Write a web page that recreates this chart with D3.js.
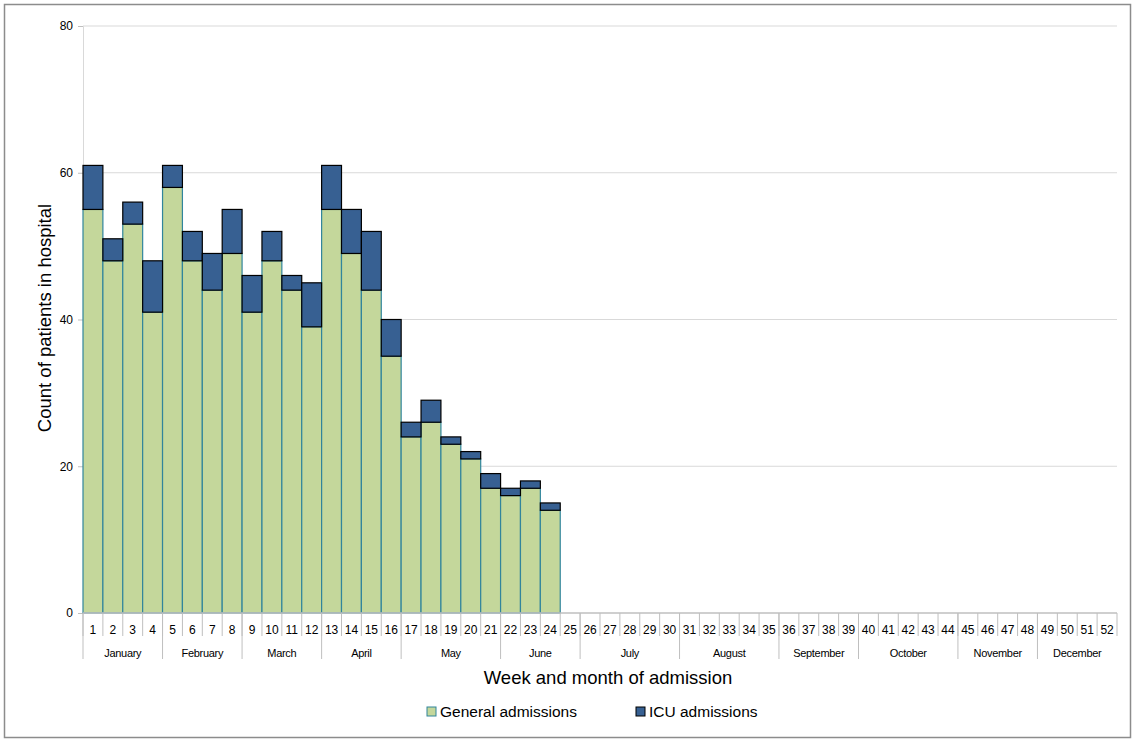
<!DOCTYPE html>
<html><head><meta charset="utf-8">
<script src="https://cdn.jsdelivr.net/npm/d3@7"></script>
<style>body{margin:0;background:#fff;} text{font-family:"Liberation Sans",Arial,sans-serif;fill:#000;}</style>
</head><body><svg id="c" width="1132" height="740"></svg>
<script>
const weeks = d3.range(1, 53);
const general = [55,48,53,41,58,48,44,49,41,48,44,39,55,49,44,35,24,26,23,21,17,16,17,14];
const icu     = [6,3,3,7,3,4,5,6,5,4,2,6,6,6,8,5,2,3,1,1,2,1,1,1];
const months = [
  {name:"January", start:1, end:4},{name:"February", start:5, end:8},
  {name:"March", start:9, end:12},{name:"April", start:13, end:16},
  {name:"May", start:17, end:21},{name:"June", start:22, end:25},
  {name:"July", start:26, end:30},{name:"August", start:31, end:35},
  {name:"September", start:36, end:39},{name:"October", start:40, end:44},
  {name:"November", start:45, end:48},{name:"December", start:49, end:52}];
const yTicks = [0,20,40,60,80];
const seriesNames = ["General admissions","ICU admissions"];
const colors = {gen:"#c4d79b", genStroke:"#31859c", icu:"#376092", icuStroke:"#000"};

const svg = d3.select("#c");
svg.append("rect").attr("x",4.5).attr("y",4.5).attr("width",1126).attr("height",733)
  .attr("fill","none").attr("stroke","#8c8c8c").attr("stroke-width",1.5);

const L=83, R=1117, T=26, B=613;
const x = d3.scaleBand().domain(weeks).range([L,R]).padding(0);
const y = d3.scaleLinear().domain([0,80]).range([B,T]);

// gridlines
svg.append("g").selectAll("line").data(yTicks.filter(d=>d>0)).join("line")
  .attr("x1",L).attr("x2",R).attr("y1",d=>y(d)).attr("y2",d=>y(d))
  .attr("stroke","#d9d9d9").attr("stroke-width",1);

// y axis
const yAxis = svg.append("g").attr("transform",`translate(${L},0)`)
  .call(d3.axisLeft(y).tickValues(yTicks).tickSize(5).tickPadding(5));
yAxis.select(".domain").attr("stroke","#d9d9d9");
yAxis.selectAll(".tick line").attr("stroke","#bfbfbf");
yAxis.selectAll(".tick text").attr("font-size",12).attr("font-family","Liberation Sans, Arial, sans-serif").attr("fill","#000");

// bars
const data = general.map((g,i)=>({week:weeks[i], gen:g, icu:icu[i]}));
const stack = d3.stack().keys(["gen","icu"])(data);
svg.append("g").selectAll("rect").data(stack[0]).join("rect")
  .attr("x",d=>x(d.data.week)).attr("width",x.bandwidth())
  .attr("y",d=>y(d[1])).attr("height",d=>y(d[0])-y(d[1]))
  .attr("fill",colors.gen).attr("stroke",colors.genStroke).attr("stroke-width",1.2);
svg.append("g").selectAll("rect").data(stack[1]).join("rect")
  .attr("x",d=>x(d.data.week)).attr("width",x.bandwidth())
  .attr("y",d=>y(d[1])).attr("height",d=>y(d[0])-y(d[1]))
  .attr("fill",colors.icu).attr("stroke",colors.icuStroke).attr("stroke-width",1.2);

// x axis baseline
svg.append("line").attr("x1",L).attr("x2",R).attr("y1",B).attr("y2",B)
  .attr("stroke","#bfbfbf").attr("stroke-width",1.5);

// week separators
const wk = svg.append("g");
wk.selectAll("line").data(weeks.concat([53])).join("line")
  .attr("x1",d=>d<=52?x(d):R).attr("x2",d=>d<=52?x(d):R)
  .attr("y1",B).attr("y2",636).attr("stroke","#bfbfbf");
wk.selectAll("text").data(weeks).join("text")
  .attr("x",d=>x(d)+x.bandwidth()/2).attr("y",634).attr("text-anchor","middle")
  .attr("font-size",12).text(d=>d);

// month separators & labels
const mg = svg.append("g");
mg.selectAll("line").data(months).join("line")
  .attr("x1",d=>x(d.start)).attr("x2",d=>x(d.start))
  .attr("y1",B).attr("y2",659).attr("stroke","#bfbfbf");
mg.selectAll("text").data(months).join("text")
  .attr("x",d=>(x(d.start)+x(d.end)+x.bandwidth())/2).attr("y",657)
  .attr("text-anchor","middle").attr("font-size",11)
  .attr("letter-spacing","-0.3").text(d=>d.name);

// axis titles
svg.append("text").attr("x",608).attr("y",684).attr("text-anchor","middle")
  .attr("font-size",18.5).text("Week and month of admission");
svg.append("text").attr("transform","translate(51,318) rotate(-90)").attr("text-anchor","middle")
  .attr("font-size",18.5).text("Count of patients in hospital");

// legend
const leg = [{name:seriesNames[0], fill:colors.gen, stroke:colors.genStroke, x:427},
             {name:seriesNames[1], fill:colors.icu, stroke:colors.icuStroke, x:636}];
const lg = svg.append("g").selectAll("g").data(leg).join("g");
lg.append("rect").attr("x",d=>d.x).attr("y",707).attr("width",9).attr("height",9)
  .attr("fill",d=>d.fill).attr("stroke",d=>d.stroke);
lg.append("text").attr("x",d=>d.x+13).attr("y",717).attr("font-size",15.5).text(d=>d.name);
</script></body></html>
